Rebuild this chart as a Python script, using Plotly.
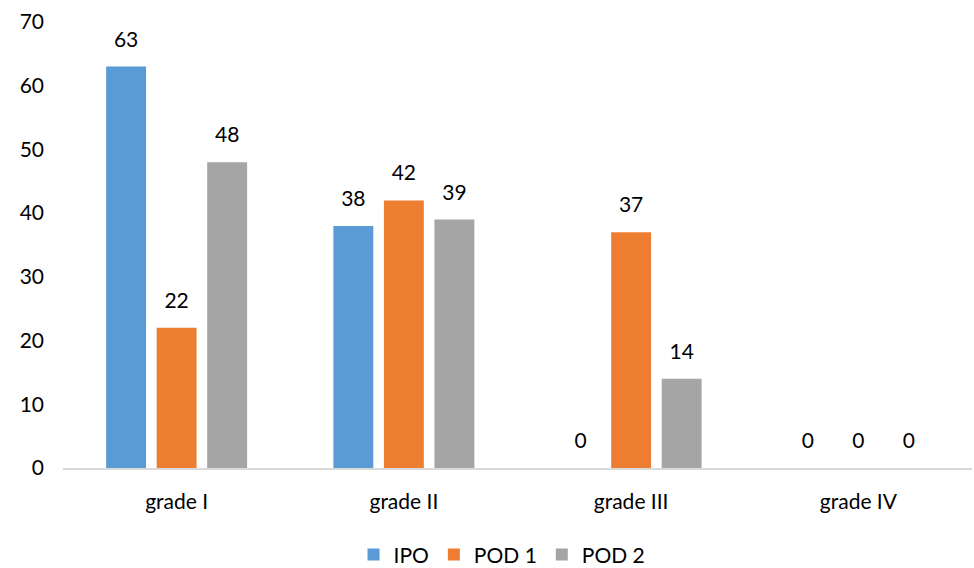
import plotly.graph_objects as go

categories = ["grade I", "grade II", "grade III", "grade IV"]
ipo = [63, 38, 0, 0]
pod1 = [22, 42, 37, 0]
pod2 = [48, 39, 14, 0]
series_names = ["IPO", "POD 1", "POD 2"]
colors = ["#5B9BD5", "#ED7D31", "#A5A5A5"]

FONT = "Lato, 'Open Sans', sans-serif"
FS = 21

fig = go.Figure()
for i, (name, vals, col) in enumerate(zip(series_names, [ipo, pod1, pod2], colors)):
    fig.add_trace(go.Bar(
        x=categories, y=vals, name=name, marker_color=col,
        marker_line_width=0, offsetgroup=str(i), alignmentgroup="a",
        hoverinfo="skip",
    ))
for i, (name, vals) in enumerate(zip(series_names, [ipo, pod1, pod2])):
    fig.add_trace(go.Scatter(
        x=categories, y=vals, mode="markers+text", showlegend=False,
        offsetgroup=str(i), alignmentgroup="a",
        marker=dict(size=22, opacity=0),
        text=[str(v) for v in vals], textposition="top center",
        textfont=dict(size=FS, color="#000000", family=FONT),
        cliponaxis=False, hoverinfo="skip",
    ))

fig.update_layout(
    width=974, height=568,
    margin=dict(l=63, r=2, t=22, b=100, autoexpand=False),
    paper_bgcolor="white", plot_bgcolor="white",
    barmode="group", scattermode="group", bargap=0.333, bargroupgap=0.21,
    font=dict(family=FONT, size=FS, color="#000000"),
    showlegend=True,
    legend=dict(orientation="h", x=0.483, xanchor="center", y=-0.195, yanchor="middle",
                font=dict(size=FS, family=FONT), traceorder="normal", itemwidth=30),
    xaxis=dict(showgrid=False, showline=True, linecolor="#D9D9D9", linewidth=2,
               ticks="", tickfont=dict(size=FS, family=FONT), ticklabelstandoff=14),
    yaxis=dict(range=[0, 70], dtick=10, showgrid=False, zeroline=False, showline=False,
               ticks="", tickfont=dict(size=FS, family=FONT), ticklabelstandoff=18),
)

fig.write_html("out.html")
